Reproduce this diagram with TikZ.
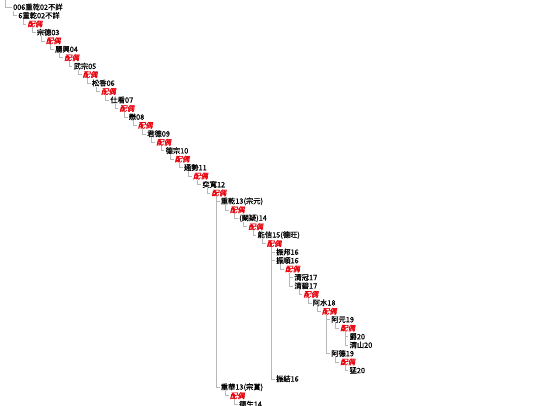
\documentclass[tikz,border=0pt]{standalone}
\usepackage{fontspec}
\newfontfamily\cjk[FakeBold=0.6]{Noto Sans CJK TC}
\newfontfamily\cjkpei[FakeSlant=0.22,FakeBold=1.2]{Noto Sans CJK TC}
\definecolor{linegray}{HTML}{B8B8B8}
\definecolor{peired}{HTML}{E8000B}
\newcommand\linkto[2]{\draw[conn] ([xshift=-4.5pt]#2.west |- #1.south) |- ([xshift=-1pt]#2.west);}
\tikzset{
  nm/.style={anchor=west, inner sep=0pt, font=\cjk\fontsize{7.3}{8}\selectfont, text=black},
  pei/.style={anchor=west, inner sep=0pt, font=\cjkpei\fontsize{7.3}{8}\selectfont, text=peired},
  conn/.style={draw=linegray, line width=0.5pt}
}
\begin{document}
\begin{tikzpicture}[x=1pt,y=-1pt]
\useasboundingbox (0,0) rectangle (540,405);
\fill[white] (0,0) rectangle (540,405);
\node[nm] (r1) at (13,{7+8.45*0}) {006重乾02不詳};
\node[nm] (r2) at ({9+9.2*1},{7+8.45*1}) {6重乾02不詳};
\node[pei] (r3) at ({9+9.2*2},{7+8.45*2}) {配偶};
\node[nm] (r4) at ({9+9.2*3},{7+8.45*3}) {宗德03};
\node[pei] (r5) at ({9+9.2*4},{7+8.45*4}) {配偶};
\node[nm] (r6) at ({9+9.2*5},{7+8.45*5}) {麗興04};
\node[pei] (r7) at ({9+9.2*6},{7+8.45*6}) {配偶};
\node[nm] (r8) at ({9+9.2*7},{7+8.45*7}) {武宗05};
\node[pei] (r9) at ({9+9.2*8},{7+8.45*8}) {配偶};
\node[nm] (r10) at ({9+9.2*9},{7+8.45*9}) {松香06};
\node[pei] (r11) at ({9+9.2*10},{7+8.45*10}) {配偶};
\node[nm] (r12) at ({9+9.2*11},{7+8.45*11}) {仕看07};
\node[pei] (r13) at ({9+9.2*12},{7+8.45*12}) {配偶};
\node[nm] (r14) at ({9+9.2*13},{7+8.45*13}) {懋08};
\node[pei] (r15) at ({9+9.2*14},{7+8.45*14}) {配偶};
\node[nm] (r16) at ({9+9.2*15},{7+8.45*15}) {君德09};
\node[pei] (r17) at ({9+9.2*16},{7+8.45*16}) {配偶};
\node[nm] (r18) at ({9+9.2*17},{7+8.45*17}) {德宗10};
\node[pei] (r19) at ({9+9.2*18},{7+8.45*18}) {配偶};
\node[nm] (r20) at ({9+9.2*19},{7+8.45*19}) {通勢11};
\node[pei] (r21) at ({9+9.2*20},{7+8.45*20}) {配偶};
\node[nm] (r22) at ({9+9.2*21},{7+8.45*21}) {奕寬12};
\node[pei] (r23) at ({9+9.2*22},{7+8.45*22}) {配偶};
\node[nm] (r24) at ({9+9.2*23},{7+8.45*23}) {重乾13(宗元)};
\node[pei] (r25) at ({9+9.2*24},{7+8.45*24}) {配偶};
\node[nm] (r26) at ({9+9.2*25},{7+8.45*25}) {(闕疑)14};
\node[pei] (r27) at ({9+9.2*26},{7+8.45*26}) {配偶};
\node[nm] (r28) at ({9+9.2*27},{7+8.45*27}) {能信15(德旺)};
\node[pei] (r29) at ({9+9.2*28},{7+8.45*28}) {配偶};
\node[nm] (r30) at ({9+9.2*29},{7+8.45*29}) {振邦16};
\node[nm] (r31) at ({9+9.2*29},{7+8.45*30}) {振順16};
\node[pei] (r32) at ({9+9.2*30},{7+8.45*31}) {配偶};
\node[nm] (r33) at ({9+9.2*31},{7+8.45*32}) {清冠17};
\node[nm] (r34) at ({9+9.2*31},{7+8.45*33}) {清碧17};
\node[pei] (r35) at ({9+9.2*32},{7+8.45*34}) {配偶};
\node[nm] (r36) at ({9+9.2*33},{7+8.45*35}) {阿水18};
\node[pei] (r37) at ({9+9.2*34},{7+8.45*36}) {配偶};
\node[nm] (r38) at ({9+9.2*35},{7+8.45*37}) {阿元19};
\node[pei] (r39) at ({9+9.2*36},{7+8.45*38}) {配偶};
\node[nm] (r40) at ({9+9.2*37},{7+8.45*39}) {爵20};
\node[nm] (r41) at ({9+9.2*37},{7+8.45*40}) {清山20};
\node[nm] (r42) at ({9+9.2*35},{7+8.45*41}) {阿德19};
\node[pei] (r43) at ({9+9.2*36},{7+8.45*42}) {配偶};
\node[nm] (r44) at ({9+9.2*37},{7+8.45*43}) {猛20};
\node[nm] (r45) at ({9+9.2*29},{7+8.45*44}) {振結16};
\node[nm] (r46) at ({9+9.2*23},{7+8.45*45}) {重華13(宗賞)};
\node[pei] (r47) at ({9+9.2*24},{7+8.45*46}) {配偶};
\node[nm] (r48) at ({9+9.2*25},{7+8.45*47}) {德生14};
\coordinate (top) at (5,0);
\draw[conn] (top) |- ([xshift=-1pt]r1.west);
\foreach \p/\c in {r1/r2,r2/r3,r3/r4,r4/r5,r5/r6,r6/r7,r7/r8,r8/r9,r9/r10,r10/r11,r11/r12,r12/r13,r13/r14,r14/r15,r15/r16,r16/r17,r17/r18,r18/r19,r19/r20,r20/r21,r21/r22,r22/r23,r23/r24,r24/r25,r25/r26,r26/r27,r27/r28,r28/r29,r29/r30,r29/r31,r31/r32,r32/r33,r32/r34,r34/r35,r35/r36,r36/r37,r37/r38,r38/r39,r39/r40,r39/r41,r37/r42,r42/r43,r43/r44,r29/r45,r23/r46,r46/r47,r47/r48}{\linkto{\p}{\c}}
\end{tikzpicture}
\end{document}
